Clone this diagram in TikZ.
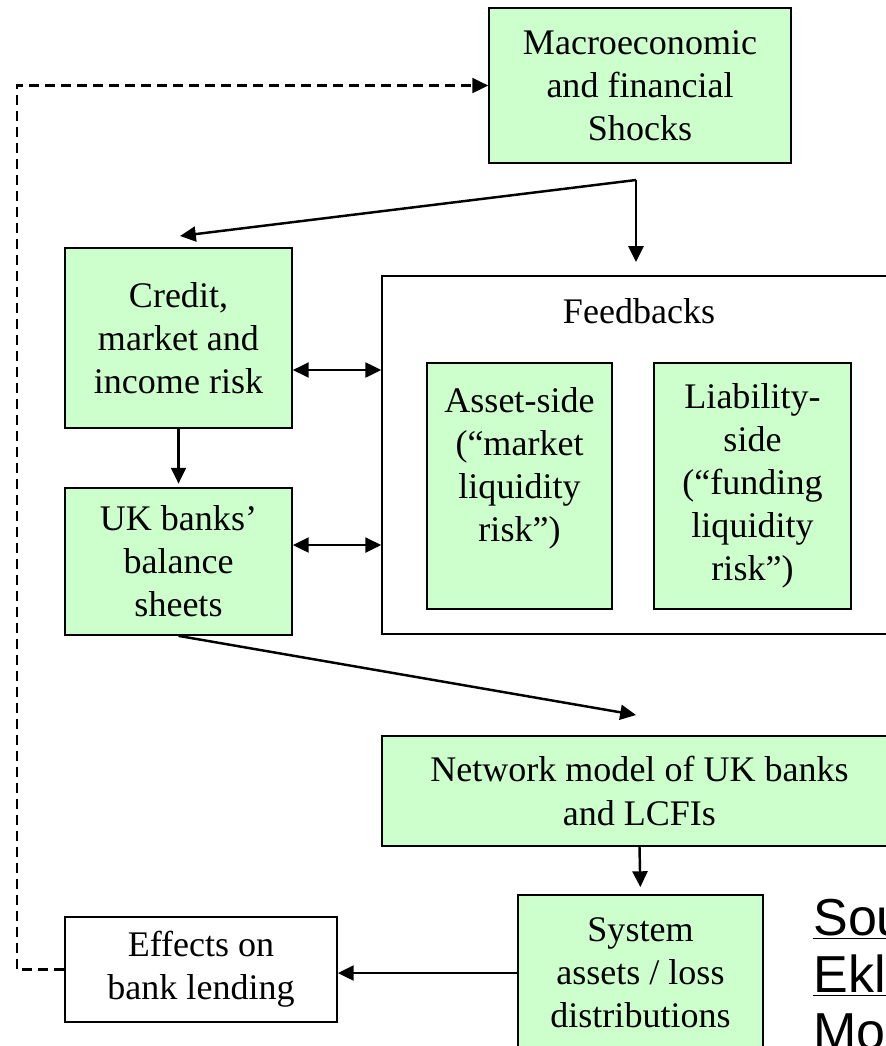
\documentclass[tikz,border=0pt]{standalone}
\usepackage{fontspec}
\setmainfont{Liberation Serif}
\newfontfamily\srcfont{Liberation Sans}
\usepackage{tikz}
\usetikzlibrary{arrows.meta}
\definecolor{boxgreen}{HTML}{CCFFCC}

\begin{document}
\begin{tikzpicture}[x=0.02cm, y=-0.02cm,
    box/.style={draw, line width=1pt, fill=boxgreen, align=center, inner sep=0pt,
      font=\fontsize{20.5}{24.5}\selectfont},
    plainbox/.style={box, fill=white},
    arr/.style={-{Triangle[length=9pt, width=8.5pt]}, line width=1.4pt},
    dbl/.style={{Triangle[length=9pt, width=8.5pt]}-{Triangle[length=9pt, width=8.5pt]}, line width=1.4pt},
    dashline/.style={arr, dash pattern=on 5.7pt off 3.4pt}]
    \useasboundingbox (0,0) rectangle (886,1046);
    \clip (0,0) rectangle (886,1046);
    % shocks at the top
    \node[box, minimum width=6.04cm, minimum height=3.1cm] (macro) at (640,85.5)
      {Macroeconomic\\and financial\\Shocks};
    % risk and balance sheets on the left
    \node[box, minimum width=4.54cm, minimum height=3.6cm] (credit) at (178.5,338)
      {Credit,\\market and\\income risk};
    \node[box, minimum width=4.54cm, minimum height=2.94cm] (uk) at (178.5,561.5)
      {UK banks’\\balance\\sheets};
    % feedbacks frame with its two boxes
    \node[plainbox, minimum width=10.28cm, minimum height=7.16cm] (fb) at (639,455) {};
    \node[font=\fontsize{20.5}{24.5}\selectfont] (fbtitle) at (639,311) {Feedbacks};
    \node[box, minimum width=3.7cm, minimum height=4.92cm] (asset) at (519.5,486)
      {Asset-side\\(“market\\liquidity\\risk”)\\\mbox{}};
    \node[box, minimum width=3.94cm, minimum height=4.92cm] (liab) at (752.5,486)
      {Liability-\\side\\(“funding\\liquidity\\risk”)};
    % network model and outcomes
    \node[box, minimum width=10.3cm, minimum height=2.2cm] (net) at (639.5,791)
      {Network model of UK banks\\and LCFIs};
    \node[box, minimum width=4.9cm, minimum height=3.12cm] (sys) at (640.5,973)
      {System\\assets / loss\\distributions};
    \node[plainbox, minimum width=5.44cm, minimum height=2.1cm] (eff) at (201,969.5)
      {Effects on\\bank lending};
    % source note, cut at the edge
    \node[anchor=base west, align=left, inner sep=0pt,
      font=\srcfont\fontsize{29.6}{32.4}\selectfont] (src) at (813,1049)
      {\underline{Sou}\\\underline{Eklu}\\Mon};
    % arrows
    \coordinate (fork) at (636,180);
    \coordinate (creditin) at (180,236);
    \coordinate (fbin) at (636,262);
    \coordinate (netin) at (636,715);
    \coordinate (loopcorner) at (17,85.5);
    \draw[arr] (fork) -- (creditin);
    \draw[arr] (fork) -- (fbin);
    \draw[dbl] ([yshift=-0.64cm]credit.east) -- ([yshift=-0.64cm]credit.east -| fb.west);
    \draw[dbl] ([yshift=0.33cm]uk.east) -- ([yshift=0.33cm]uk.east -| fb.west);
    \draw[arr] (credit.south) -- ([yshift=2pt]uk.north);
    \draw[arr] (uk.south) -- (netin);
    \draw[arr, shorten >=4pt] (net.south) -- (sys.north);
    \draw[arr] (sys.west) -- (sys.west -| eff.east);
    \draw[dashline] (eff.west) -| (loopcorner) -- (macro.west);
\end{tikzpicture}
\end{document}
